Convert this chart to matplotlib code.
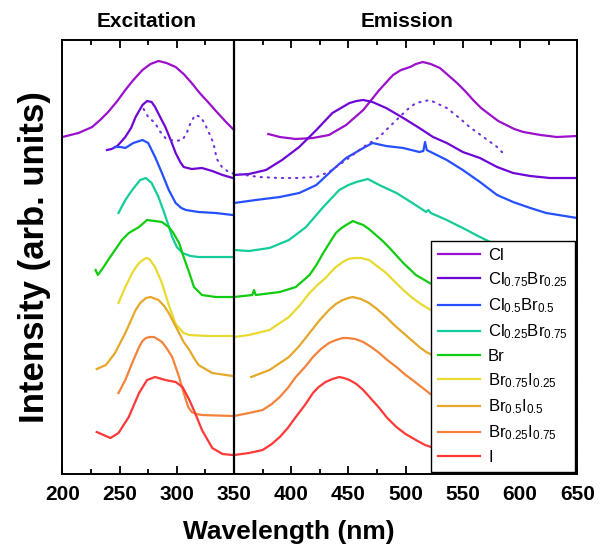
import matplotlib
matplotlib.use("Agg")
import matplotlib.pyplot as plt
from matplotlib.ticker import MultipleLocator

plt.rcParams['font.family'] = ['Liberation Sans', 'DejaVu Sans']
plt.rcParams['mathtext.default'] = 'regular'

# ---------------- data (wavelength nm, stacked intensity arb. units) ----------------
labels = ['Cl', r'Cl$_{0.75}$Br$_{0.25}$', r'Cl$_{0.5}$Br$_{0.5}$', r'Cl$_{0.25}$Br$_{0.75}$',
          'Br', r'Br$_{0.75}$I$_{0.25}$', r'Br$_{0.5}$I$_{0.5}$', r'Br$_{0.25}$I$_{0.75}$', 'I']
colors = ['#9A10CC', '#6E06D6', '#2450FF', '#12CC99', '#10CC10', '#E8DA30', '#E6A82A', '#F5823A', '#FF3838']

# Excitation spectra
ex_cl_wl = [200, 207, 214, 220, 226, 233, 240, 248, 255, 262, 270, 277, 284, 291, 299, 306, 313, 320, 328, 335, 343, 350]
ex_cl = [337, 339, 341, 344, 347, 354, 362, 373, 384, 394, 404, 410, 413, 411, 407, 400, 391, 381, 371, 362, 352, 344]
ex_clbr1_wl = [239, 243, 248, 255, 260, 264, 270, 274, 278, 281, 285, 290, 295, 299, 303, 306, 313, 322, 331, 340, 349]
ex_clbr1 = [324, 325, 328, 337, 346, 357, 369, 373, 372, 367, 358, 347, 333, 321, 312, 307, 305, 306, 303, 299, 296]
ex_clbr2_wl = [246, 251, 255, 262, 270, 275, 281, 287, 293, 299, 304, 308, 319, 334, 349]
ex_clbr2 = [327, 327, 326, 331, 334, 331, 317, 301, 284, 271, 266, 264, 262, 261, 259]
ex_clbr3_wl = [249, 255, 261, 268, 273, 278, 284, 290, 296, 300, 305, 312, 319, 349]
ex_clbr3 = [261, 274, 284, 294, 296, 291, 277, 258, 237, 227, 221, 218, 217, 217]
ex_br_wl = [229, 231, 236, 240, 246, 252, 258, 267, 274, 281, 287, 293, 297, 302, 306, 311, 315, 322, 334, 349]
ex_br = [204, 199, 207, 214, 224, 234, 241, 247, 254, 253, 252, 247, 241, 231, 217, 201, 187, 179, 177, 177]
ex_bri1_wl = [249, 255, 261, 265, 268, 273, 276, 281, 287, 293, 299, 306, 311, 328, 349]
ex_bri1 = [171, 187, 201, 208, 212, 216, 215, 207, 191, 169, 150, 141, 139, 138, 138]
ex_bri2_wl = [230, 238, 246, 255, 264, 268, 273, 277, 284, 289, 293, 297, 302, 306, 311, 315, 319, 331, 349]
ex_bri2 = [105, 109, 121, 141, 164, 171, 176, 177, 174, 168, 161, 152, 141, 132, 124, 116, 109, 101, 98]
ex_bri3_wl = [249, 255, 261, 267, 270, 273, 276, 280, 283, 287, 291, 296, 299, 302, 305, 308, 310, 313, 317, 322, 349]
ex_bri3 = [81, 94, 111, 127, 133, 136, 137, 137, 135, 132, 126, 117, 107, 97, 85, 74, 67, 62, 60, 59, 58]
ex_i_wl = [230, 236, 242, 249, 258, 267, 274, 281, 290, 299, 305, 311, 316, 322, 331, 340, 349]
ex_i = [42, 39, 36, 41, 57, 81, 94, 97, 94, 92, 87, 74, 61, 44, 26, 20, 19]

# Emission spectra
em_cl_wl = [380, 390, 404, 419, 433, 448, 463, 477, 489, 496, 504, 509, 515, 522, 530, 537, 545, 552,
            559, 566, 574, 581, 588, 595, 603, 618, 632, 650]
em_cl = [340, 337, 335, 336, 339, 349, 364, 384, 399, 404, 407, 410, 412, 410, 406, 399, 391, 383,
         374, 366, 359, 353, 349, 345, 342, 339, 337, 338]
em_clbr1_wl = [350, 363, 378, 392, 407, 422, 436, 451, 457, 463, 467, 471, 483, 498, 512, 524, 536, 550,
               565, 580, 594, 609, 626, 650]
em_clbr1 = [299, 300, 304, 314, 327, 344, 361, 371, 373, 374, 373, 372, 366, 356, 346, 337, 331, 322,
            316, 307, 301, 298, 296, 296]
em_clbr2_wl = [350, 369, 390, 407, 422, 436, 448, 463, 471, 483, 498, 512, 515.5, 517, 518.5, 536, 550,
               565, 580, 594, 609, 623, 650]
em_clbr2 = [271, 274, 277, 281, 289, 304, 316, 326, 331, 328, 326, 322, 323, 332, 324, 314, 304,
            292, 279, 272, 266, 261, 256]
em_clbr3_wl = [350, 363, 381, 398, 413, 428, 442, 450, 457, 467, 477, 492, 506, 518, 520, 522, 536,
               550, 565, 574, 600, 625, 650]
em_clbr3 = [224, 223, 226, 234, 247, 267, 284, 289, 292, 295, 289, 281, 271, 262, 264, 261, 254,
            246, 237, 232, 223, 219, 217]
em_br_wl = [350, 366, 367.5, 369, 390, 404, 416, 422, 428, 434, 439, 444, 448, 454, 458, 463, 468,
            474, 480, 486, 498, 509, 521, 527, 560, 600, 650]
em_br = [177, 179, 184, 179, 182, 187, 199, 209, 221, 232, 241, 246, 249, 253, 251, 249, 245,
         239, 233, 226, 211, 199, 191, 188, 182, 179, 178]
em_bri1_wl = [350, 363, 381, 398, 407, 416, 423, 430, 438, 445, 450, 455, 461, 468, 475, 483, 490,
              498, 505, 512, 519, 527, 540, 560, 600, 650]
em_bri1 = [137, 139, 144, 157, 168, 181, 189, 196, 206, 212, 215, 216, 216, 214, 208, 201, 193,
           184, 177, 171, 166, 161, 155, 148, 141, 138]
em_bri2_wl = [365, 381, 398, 407, 416, 425, 433, 439, 445, 450, 454, 461, 468, 475, 483, 490, 498,
              505, 512, 518, 525, 540, 560, 600, 650]
em_bri2 = [97, 104, 117, 128, 141, 154, 164, 170, 174, 176, 177, 175, 171, 165, 157, 149, 141,
           134, 127, 122, 118, 110, 104, 98, 96]
em_bri3_wl = [350, 363, 375, 383, 390, 397, 404, 412, 419, 426, 433, 439, 445, 449, 456, 463, 470,
              477, 484, 492, 499, 506, 515, 525, 540, 560, 600, 650]
em_bri3 = [58, 61, 64, 70, 77, 86, 97, 107, 117, 125, 131, 134, 136, 136, 135, 132, 127,
           121, 114, 107, 100, 94, 86, 77, 70, 64, 59, 58]
em_i_wl = [350, 363, 375, 383, 390, 397, 404, 412, 419, 424, 430, 436, 442, 446, 451, 457, 463,
           470, 477, 484, 492, 500, 509, 517, 525, 540, 560, 600, 650]
em_i = [19, 21, 24, 30, 37, 46, 57, 69, 81, 87, 92, 95, 97, 96, 94, 90, 84,
        75, 66, 56, 47, 40, 34, 29, 26, 23, 21, 19, 19]

# Extra dotted spectrum (no legend entry)
dot_wl = [271, 275, 281, 285, 290, 298, 305, 309, 312, 316, 321, 325, 329, 332, 335, 340, 347,
          372, 390, 404, 422, 433, 448, 463, 477, 483, 492, 501, 509, 521, 536, 547, 556, 568, 580, 585]
dot_y = [365, 357, 351, 343, 336, 333, 334, 342, 351, 359, 357, 349, 339, 331, 315, 306, 301,
         297, 296, 296, 297, 302, 314, 327, 337, 344, 354, 364, 371, 374, 366, 356, 347, 337, 327, 321]

ex_wl = [ex_cl_wl, ex_clbr1_wl, ex_clbr2_wl, ex_clbr3_wl, ex_br_wl, ex_bri1_wl, ex_bri2_wl, ex_bri3_wl, ex_i_wl]
ex_y = [ex_cl, ex_clbr1, ex_clbr2, ex_clbr3, ex_br, ex_bri1, ex_bri2, ex_bri3, ex_i]
em_wl = [em_cl_wl, em_clbr1_wl, em_clbr2_wl, em_clbr3_wl, em_br_wl, em_bri1_wl, em_bri2_wl, em_bri3_wl, em_i_wl]
em_y = [em_cl, em_clbr1, em_clbr2, em_clbr3, em_br, em_bri1, em_bri2, em_bri3, em_i]

# ---------------- figure ----------------
fig = plt.figure(figsize=(6.0, 5.48), dpi=100)
ax = fig.add_axes([0.104, 0.135, 0.858, 0.792])

for i in range(len(labels)):
    ax.plot(ex_wl[i], ex_y[i], color=colors[i], lw=1.6, solid_joinstyle='round')
    ax.plot(em_wl[i], em_y[i], color=colors[i], lw=1.6, solid_joinstyle='round', label=labels[i])
ax.plot(dot_wl, dot_y, color='#7030E0', lw=1.5, linestyle=(0, (0.6, 2.8)), dash_capstyle='round')

ax.axvline(350, color='black', lw=1.6)

ax.set_xlim(200, 650)
ax.set_ylim(0, 434)
ax.xaxis.set_major_locator(MultipleLocator(50))
ax.xaxis.set_minor_locator(MultipleLocator(25))
ax.tick_params(axis='x', which='both', direction='in', top=True, bottom=True)
ax.tick_params(axis='x', which='major', length=6, width=1.3, labelsize=15, pad=8)
ax.tick_params(axis='x', which='minor', length=3.5, width=1.3)
ax.set_yticks([])
for lab in ax.get_xticklabels():
    lab.set_fontweight('bold')
for s in ax.spines.values():
    s.set_linewidth(1.4)

ax.set_xlabel('Wavelength (nm)', fontsize=19, fontweight='bold')
ax.xaxis.set_label_coords(0.44, -0.105)
ax.set_ylabel('Intensity (arb. units)', fontsize=25, fontweight='bold', labelpad=8)

ax.text(274, 1.02, 'Excitation', transform=ax.get_xaxis_transform(), ha='center', va='bottom',
        fontsize=15, fontweight='bold')
ax.text(501, 1.02, 'Emission', transform=ax.get_xaxis_transform(), ha='center', va='bottom',
        fontsize=15, fontweight='bold')

leg = ax.legend(loc='lower right', fontsize=12, frameon=True, fancybox=False, edgecolor='black',
                framealpha=1.0, handlelength=2.5, handletextpad=0.5, labelspacing=0.45,
                borderaxespad=0.15, borderpad=0.4)
leg.get_frame().set_linewidth(1.0)

fig.savefig('out.png', dpi=100)
